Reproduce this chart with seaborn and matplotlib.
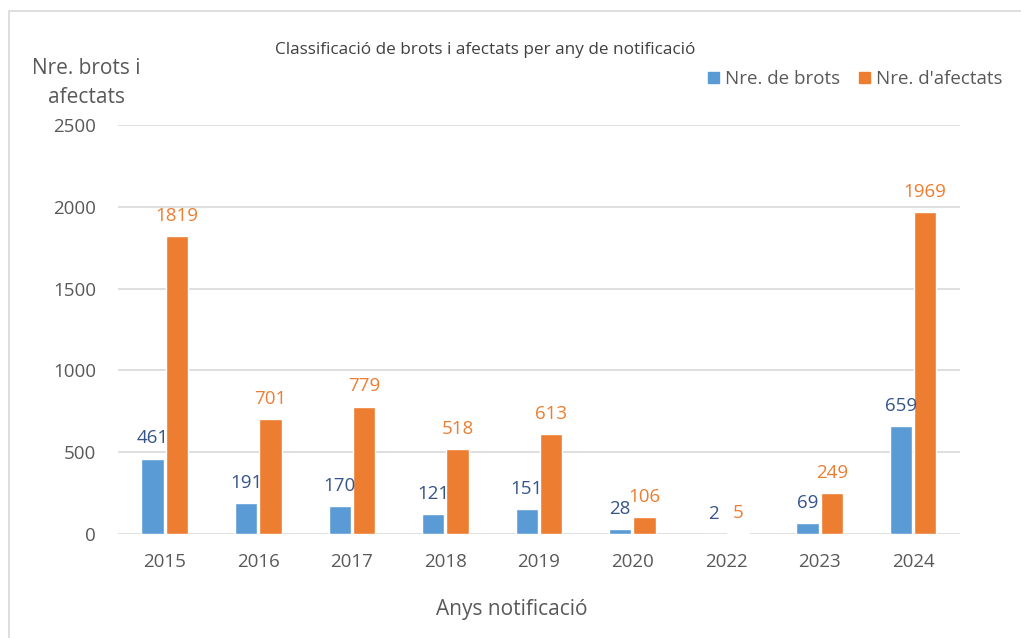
import pandas as pd
import numpy as np
import seaborn as sns
import matplotlib.pyplot as plt
from matplotlib.patches import Rectangle

years = ["2015", "2016", "2017", "2018", "2019", "2020", "2022", "2023", "2024"]
brots = [461, 191, 170, 121, 151, 28, 2, 69, 659]
afectats = [1819, 701, 779, 518, 613, 106, 5, 249, 1969]
series = ["Nre. de brots", "Nre. d'afectats"]

df = pd.DataFrame({
    "Any": years * 2,
    "Valor": brots + afectats,
    "Serie": [series[0]] * len(years) + [series[1]] * len(years),
})

sns.set_style("white")
plt.rcParams['font.family'] = ['Open Sans', 'DejaVu Sans']
grey = "#595959"
blue = "#5B9BD5"
orange = "#ED7D31"

fig = plt.figure(figsize=(10.21, 6.38), dpi=100)
ax = fig.add_axes([0.1156, 0.163, 0.8245, 0.641])

sns.barplot(data=df, x="Any", y="Valor", hue="Serie", palette=[blue, orange],
            width=0.52, gap=0.08, ax=ax, legend=False, saturation=1)

ax.bar_label(ax.containers[0], padding=8, fontsize=13.5, color="#35558A")
ax.bar_label(ax.containers[1], padding=8, fontsize=13.5, color=orange)

ax.set_ylim(0, 2500)
ax.set_yticks(np.arange(0, 2501, 500))
ax.yaxis.grid(True, color="#D9D9D9", linewidth=1.2)
ax.set_axisbelow(True)
for s in ax.spines.values():
    s.set_visible(False)
ax.tick_params(axis="both", length=0, labelsize=13.5, labelcolor=grey)
ax.tick_params(axis="y", pad=16)
ax.tick_params(axis="x", pad=14)

ax.set_xlabel("Anys notificació", fontsize=15, color=grey)
ax.xaxis.set_label_coords(0.468, -0.16)
ax.set_ylabel("Nre. brots i\nafectats", fontsize=15, color=grey, rotation=0,
              ha="center", va="center", linespacing=1.5)
ax.yaxis.set_label_coords(-0.038, 1.103)

fig.text(485 / 1021, 1 - 50 / 638, "Classificació de brots i afectats per any de notificació",
         fontsize=12.3, color="#404040", ha="center", va="center")

handles = [Rectangle((0, 0), 1, 1, color=blue), Rectangle((0, 0), 1, 1, color=orange)]
fig.legend(handles, series, loc="center right", bbox_to_anchor=(0.998, 0.876),
           ncol=2, frameon=False, fontsize=13.5, labelcolor=grey,
           handlelength=0.6, handleheight=0.6, handletextpad=0.3, columnspacing=1.0)

fig.patches.append(Rectangle((9 / 1021, -0.05), 1.1, 1 - 11 / 638 + 0.05,
                             transform=fig.transFigure, fill=False,
                             edgecolor="#D9D9D9", linewidth=1.2))

fig.savefig("out.png", dpi=100)
